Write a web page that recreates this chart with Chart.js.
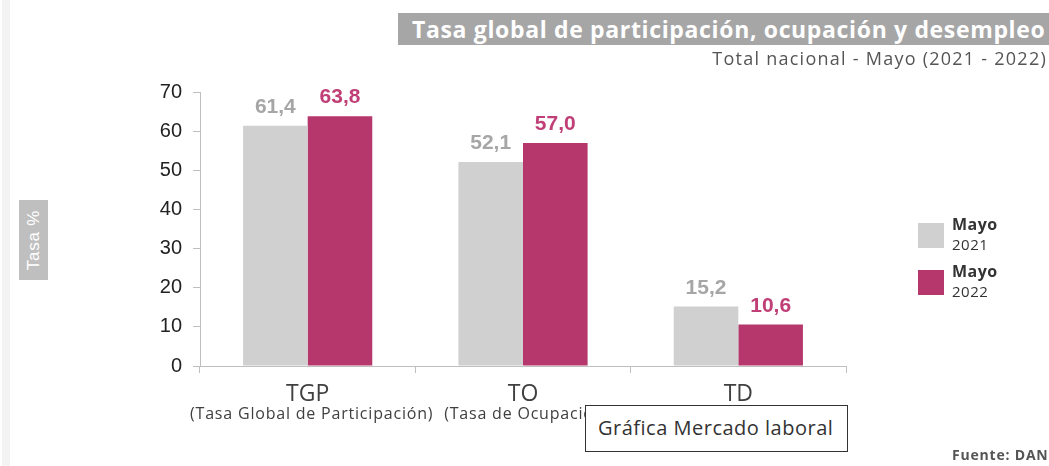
<!DOCTYPE html>
<html>
<head>
<meta charset="utf-8">
<script src="https://cdn.jsdelivr.net/npm/chart.js@4"></script>
<style>
  body { margin: 0; background: #fff; font-family: "Open Sans", sans-serif; }
  #wrap { position: relative; width: 1049px; height: 466px; overflow: hidden; }
  #strip { position: absolute; left: 2px; top: 0; width: 8px; height: 466px; background: #f3f3f3; }
  #title { position: absolute; left: 398px; top: 13px; width: 660px; height: 32px; background: #a6a6a6;
           color: #fff; font-weight: bold; font-size: 23px; letter-spacing: 0.65px; line-height: 32px;
           padding-left: 14px; box-sizing: border-box; white-space: nowrap; }
  #subtitle { position: absolute; right: 2px; top: 46px; font-size: 18px; letter-spacing: 1.25px; color: #555; white-space: nowrap; }
  #ylab { position: absolute; left: 19px; top: 200px; width: 29px; height: 80px; background: #bfbfbf; }
  #ylab span { position: absolute; left: 50%; top: 50%; transform: translate(-50%, -50%) rotate(-90deg);
               color: #fff; font-family: "Liberation Sans", Arial, sans-serif; font-size: 17px; letter-spacing: 0.8px; white-space: nowrap; }
  #tip { position: absolute; left: 585px; top: 405px; width: 263px; height: 47px; background: #fff; border: 1px solid #333;
         box-sizing: border-box; font-size: 20px; letter-spacing: 0.5px; color: #333; line-height: 44px; padding-left: 12px; }
  #fuente { position: absolute; left: 952px; top: 445px; font-size: 14px; letter-spacing: 0.8px; font-weight: bold; color: #555; white-space: nowrap; }
</style>
</head>
<body>
<div id="wrap">
  <canvas id="c" width="1049" height="466"></canvas>
  <div id="strip"></div>
  <div id="title">Tasa global de participación, ocupación y desempleo</div>
  <div id="subtitle">Total nacional - Mayo (2021 - 2022)</div>
  <div id="ylab"><span>Tasa %</span></div>
  <div id="tip">Gráfica Mercado laboral</div>
  <div id="fuente">Fuente: DANE</div>
</div>
<script>
const categories = ['TGP', 'TO', 'TD'];
const categoryNames = ['(Tasa Global de Participación)', '(Tasa de Ocupación)', '(Tasa de Desempleo)'];
const may2021 = [61.4, 52.1, 15.2];
const may2022 = [63.8, 57.0, 10.6];
const yTicks = [0, 10, 20, 30, 40, 50, 60, 70];

const GRAY = '#d0d0d0';
const PINK = '#b5376b';

const fmtComma = v => v.toFixed(1).replace('.', ',');

// value labels, category captions and legend drawn on the canvas
const overlay = {
  id: 'overlay',
  afterDatasetsDraw(chart) {
    const { ctx } = chart;
    ctx.save();
    ctx.textAlign = 'center';
    ctx.textBaseline = 'alphabetic';
    chart.data.datasets.forEach((ds, di) => {
      const meta = chart.getDatasetMeta(di);
      meta.data.forEach((bar, i) => {
        ctx.font = 'bold 21px "Liberation Sans", Arial, sans-serif';
        ctx.fillStyle = di === 1 ? '#bf3f76' : '#a6a6a6';
        ctx.fillText(fmtComma(ds.data[i]), bar.x, bar.y - 13);
      });
    });

    const xs = chart.scales.x;
    categories.forEach((c, i) => {
      const x = xs.getPixelForValue(i);
      ctx.fillStyle = '#404040';
      ctx.letterSpacing = '0px';
      ctx.font = '23px "Open Sans", sans-serif';
      ctx.fillText(c, x, 401);
      ctx.letterSpacing = '0.8px';
      ctx.font = '16px "Open Sans", sans-serif';
      ctx.fillText(categoryNames[i], x + 4, 419);
    });

    // legend
    ctx.textAlign = 'left';
    ctx.letterSpacing = '0.5px';
    chart.data.datasets.forEach((ds, di) => {
      const y = 223 + di * 47;
      ctx.fillStyle = ds.backgroundColor;
      ctx.fillRect(918, y, 26, 25);
      ctx.fillStyle = '#333';
      ctx.font = 'bold 16px "Open Sans", sans-serif';
      ctx.fillText(ds.label[0], 952, y + 7);
      ctx.font = '15px "Open Sans", sans-serif';
      ctx.fillText(ds.label[1], 952, y + 27);
    });
    ctx.restore();
  }
};

new Chart(document.getElementById('c'), {
  type: 'bar',
  data: {
    labels: categories,
    datasets: [
      { label: ['Mayo', '2021'], data: may2021, backgroundColor: GRAY },
      { label: ['Mayo', '2022'], data: may2022, backgroundColor: PINK },
    ],
  },
  options: {
    responsive: false,
    animation: false,
    events: [],
    layout: { padding: { left: 0, top: 92, right: 203, bottom: 0 } },
    plugins: { legend: { display: false }, tooltip: { enabled: false } },
    datasets: { bar: { barPercentage: 1, categoryPercentage: 0.6 } },
    scales: {
      x: {
        grid: { drawOnChartArea: false, tickLength: 7, color: '#bfbfbf' },
        border: { color: '#bfbfbf' },
        ticks: { display: false },
        afterFit: s => { s.height = 100; },
      },
      y: {
        min: 0,
        max: 70,
        afterBuildTicks: s => { s.ticks = yTicks.map(v => ({ value: v })); },
        grid: { drawOnChartArea: false, tickLength: 7, color: '#bfbfbf' },
        border: { color: '#bfbfbf' },
        ticks: {
          color: '#222',
          padding: 11,
          font: { family: '"Liberation Sans", Arial, sans-serif', size: 20 },
        },
        afterFit: s => { s.width = 200; },
      },
    },
  },
  plugins: [overlay],
});
</script>
</body>
</html>
